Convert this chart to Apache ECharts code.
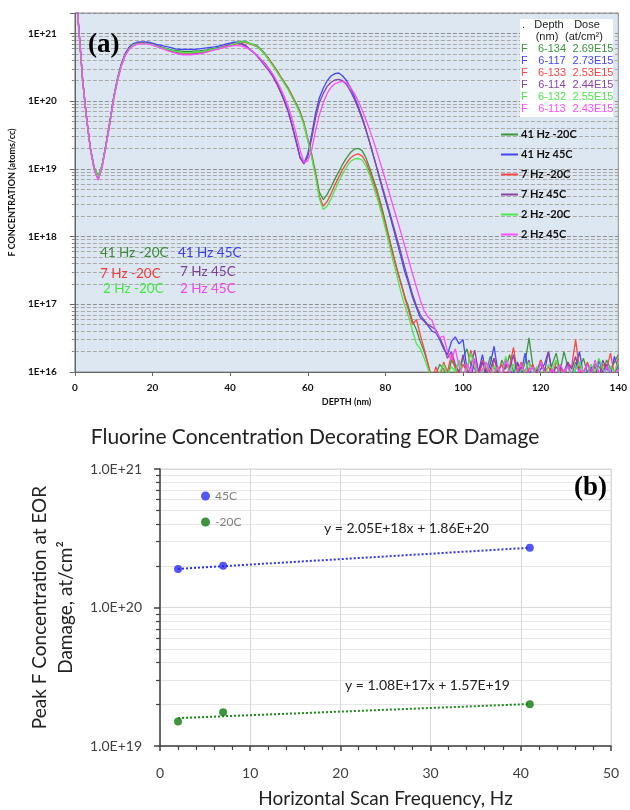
<!DOCTYPE html>
<html><head><meta charset="utf-8">
<script src="https://cdn.jsdelivr.net/npm/echarts/dist/echarts.min.js"></script>
<style>html,body{margin:0;padding:0;background:#fff}#c{width:630px;height:810px}</style>
</head><body><div id="c"></div>
<script>
// ---------- Panel (a): SIMS depth profiles ----------
const depthNm = [
0,1,2,3,4,5,6,7,8,9,10,11,12,13,14,15,16,17,18,19,20,21,22,23,24,25,26,27,28,29,
30,31,32,33,34,35,36,37,38,39,40,41,42,43,44,45,46,47,48,49,50,51,52,53,54,55,56,57,58,59,
60,61,62,63,64,65,66,67,68,69,70,71,72,73,74,75,76,77,78,79,80,81,82,83,84,85,86,87,88,89,
90,91,92,93,94,95,96,97,98,99,100,101,102,103,104,105,106,107,108,109,110,111,112,113,114,115,116,117,118,119,
120,121,122,123,124,125,126,127,128,129,130,131,132,133,134,135,136,137,138,139,140];

const f41HzMinus20C = [
6e21,1.2e21,2.0e20,5.6e19,2.0e19,1.05e19,7.9e18,1.12e19,2.2e19,4.8e19,
1.12e20,2.1e20,3.5e20,4.9e20,6.0e20,6.8e20,7.1e20,7.2e20,7.2e20,7.1e20,
6.9e20,6.6e20,6.3e20,6.1e20,5.9e20,5.7e20,5.6e20,5.5e20,5.4e20,5.4e20,
5.4e20,5.5e20,5.5e20,5.6e20,5.7e20,5.9e20,6.0e20,6.2e20,6.3e20,6.5e20,
6.8e20,7.1e20,7.4e20,7.6e20,7.6e20,7.2e20,6.9e20,6.5e20,5.8e20,5.0e20,
4.2e20,3.5e20,2.9e20,2.3e20,1.9e20,1.55e20,1.2e20,9.3e19,7.1e19,4.8e19,
2.8e19,1.66e19,8.9e18,4.5e18,3.5e18,4.2e18,5.4e18,7.1e18,9.1e18,1.17e19,
1.45e19,1.74e19,1.95e19,2.0e19,1.86e19,1.45e19,1.0e19,6.8e18,4.5e18,2.8e18,
1.66e18,9.5e17,5.6e17,3.3e17,2.1e17,1.3e17,8.9e16,5.6e16,4.2e16,2.8e16,
2.0e16,1.3e16,8e15,9e15,1.3e16,1.1e16,8e15,1.5e16,1.2e16,1.0e16,
1.6e16,2.2e16,1.3e16,1.1e16,9e15,1.4e16,1.0e16,1.7e16,1.2e16,9e15,
1.5e16,1.1e16,1.8e16,1.0e16,1.3e16,9e15,1.4e16,3.2e16,1.2e16,1.0e16,
1.5e16,1.1e16,9e15,1.3e16,1.9e16,1.0e16,2.0e16,1.2e16,9e15,1.4e16,
1.1e16,1.6e16,1.0e16,9e15,1.3e16,1.2e16,1.0e16,1.5e16,1.1e16,1.4e16,
1.8e16];

const f41Hz45C = [
6e21,1.25e21,2.1e20,5.8e19,2.0e19,1.0e19,7.2e18,1.1e19,2.3e19,5.0e19,
1.15e20,2.2e20,3.6e20,5.1e20,6.3e20,7.0e20,7.4e20,7.5e20,7.5e20,7.4e20,
7.2e20,6.9e20,6.7e20,6.5e20,6.3e20,6.1e20,5.9e20,5.8e20,5.8e20,5.8e20,
5.8e20,5.8e20,5.9e20,6.0e20,6.1e20,6.2e20,6.3e20,6.5e20,6.7e20,7.0e20,
7.2e20,7.4e20,7.4e20,7.1e20,6.6e20,5.9e20,5.3e20,4.7e20,4.1e20,3.6e20,
3.0e20,2.4e20,1.85e20,1.4e20,1.02e20,7.0e19,4.4e19,2.6e19,1.5e19,1.2e19,
1.66e19,3.2e19,6.6e19,1.12e20,1.55e20,2.0e20,2.35e20,2.55e20,2.6e20,2.35e20,
2.0e20,1.58e20,1.17e20,8.3e19,5.8e19,3.8e19,2.4e19,1.5e19,9.3e18,5.6e18,
3.5e18,2.2e18,1.35e18,8.3e17,5.0e17,3.0e17,2.0e17,1.26e17,8.9e16,6.3e16,
5.6e16,4.8e16,4.0e16,3.8e16,3.0e16,2.2e16,1.8e16,2.8e16,3.3e16,2.6e16,
3.0e16,1.1e16,8e15,1.5e16,1.0e16,1.8e16,9e15,1.3e16,2.4e16,1.0e16,
8e15,1.6e16,1.1e16,9e15,1.4e16,1.0e16,1.9e16,9e15,1.2e16,8e15,
1.1e16,1.3e16,2.0e16,1.0e16,9e15,1.2e16,1.0e16,1.4e16,8e15,1.1e16,
2.0e16,9e15,1.0e16,1.2e16,8e15,1.5e16,1.0e16,1.3e16,9e15,1.7e16,
1.1e16];

const f7HzMinus20C = [
6e21,1.2e21,2.0e20,5.6e19,2.0e19,1.02e19,7.6e18,1.1e19,2.2e19,4.7e19,
1.1e20,2.1e20,3.4e20,4.8e20,5.9e20,6.6e20,7.0e20,7.1e20,7.1e20,7.0e20,
6.8e20,6.5e20,6.1e20,5.9e20,5.7e20,5.5e20,5.3e20,5.2e20,5.1e20,5.1e20,
5.1e20,5.2e20,5.2e20,5.3e20,5.4e20,5.6e20,5.8e20,5.9e20,6.1e20,6.3e20,
6.5e20,6.8e20,7.1e20,7.3e20,7.3e20,7.0e20,6.7e20,6.3e20,5.7e20,4.9e20,
4.1e20,3.4e20,2.8e20,2.3e20,1.85e20,1.5e20,1.18e20,9.0e19,6.8e19,4.6e19,
2.7e19,1.55e19,8.0e18,3.9e18,2.8e18,3.3e18,4.3e18,5.8e18,7.6e18,9.8e18,
1.22e19,1.45e19,1.6e19,1.66e19,1.55e19,1.25e19,8.9e18,6.0e18,4.0e18,2.5e18,
1.5e18,8.9e17,5.2e17,3.2e17,2.0e17,1.25e17,8.0e16,5.0e16,6.0e16,3.5e16,
2.2e16,1.3e16,7e15,1.2e16,8e15,1.4e16,1.0e16,1.8e16,1.1e16,9e15,
1.3e16,1.0e16,2.1e16,1.2e16,8e15,1.5e16,1.1e16,9e15,1.6e16,1.0e16,
1.3e16,8e15,1.2e16,2.3e16,1.0e16,1.4e16,9e15,1.1e16,1.3e16,8e15,
1.5e16,1.0e16,1.2e16,9e15,1.4e16,1.1e16,1.0e16,1.3e16,1.2e16,3.0e16,
1.1e16,9e15,1.4e16,1.0e16,1.2e16,8e15,1.3e16,1.1e16,1.9e16,9e15,
1.6e16];

const f7Hz45C = [
6e21,1.25e21,2.1e20,5.8e19,2.0e19,1.0e19,7.0e18,1.08e19,2.2e19,4.8e19,
1.1e20,2.1e20,3.5e20,5.0e20,6.1e20,6.8e20,7.2e20,7.3e20,7.3e20,7.1e20,
6.9e20,6.6e20,6.3e20,6.0e20,5.7e20,5.4e20,5.2e20,5.0e20,4.9e20,4.9e20,
4.9e20,5.0e20,5.1e20,5.2e20,5.4e20,5.6e20,5.8e20,6.0e20,6.3e20,6.6e20,
6.9e20,7.1e20,7.1e20,6.9e20,6.5e20,5.8e20,5.2e20,4.6e20,3.9e20,3.3e20,
2.8e20,2.3e20,1.8e20,1.35e20,9.8e19,6.8e19,4.2e19,2.5e19,1.45e19,1.18e19,
1.5e19,2.8e19,5.6e19,9.5e19,1.3e20,1.65e20,1.9e20,2.05e20,2.1e20,2.0e20,
1.75e20,1.4e20,1.07e20,7.8e19,5.5e19,3.7e19,2.4e19,1.5e19,9.5e18,6.0e18,
3.8e18,2.4e18,1.5e18,9.3e17,5.8e17,3.5e17,2.2e17,1.4e17,9.5e16,7.0e16,
5.8e16,5.0e16,4.6e16,4.2e16,3.2e16,2.4e16,1.6e16,2.0e16,1.3e16,1.0e16,
1.8e16,9e15,1.2e16,2.1e16,1.0e16,1.4e16,8e15,1.1e16,1.6e16,1.0e16,
9e15,1.3e16,1.1e16,1.8e16,9e15,1.2e16,1.0e16,1.5e16,8e15,1.1e16,
1.3e16,1.0e16,2.0e16,9e15,1.2e16,1.0e16,8e15,1.4e16,1.1e16,1.7e16,
9e15,1.0e16,1.3e16,1.0e16,1.2e16,8e15,1.5e16,1.1e16,1.0e16,9e15,
1.3e16];

const f2HzMinus20C = [
6e21,1.2e21,2.0e20,5.5e19,1.95e19,1.0e19,7.6e18,1.1e19,2.2e19,4.7e19,
1.1e20,2.1e20,3.4e20,4.8e20,5.9e20,6.7e20,7.0e20,7.1e20,7.1e20,7.0e20,
6.8e20,6.5e20,6.2e20,6.0e20,5.8e20,5.6e20,5.4e20,5.3e20,5.2e20,5.2e20,
5.2e20,5.3e20,5.3e20,5.4e20,5.5e20,5.7e20,5.9e20,6.0e20,6.2e20,6.4e20,
6.7e20,7.0e20,7.3e20,7.5e20,7.5e20,7.1e20,6.8e20,6.3e20,5.6e20,4.8e20,
4.0e20,3.3e20,2.7e20,2.2e20,1.8e20,1.45e20,1.12e20,8.7e19,6.5e19,4.4e19,
2.6e19,1.5e19,7.6e18,3.6e18,2.5e18,2.8e18,3.6e18,4.9e18,6.5e18,8.5e18,
1.07e19,1.28e19,1.4e19,1.42e19,1.35e19,1.1e19,7.9e18,5.3e18,3.5e18,2.2e18,
1.3e18,7.5e17,4.3e17,2.6e17,1.5e17,9.5e16,6.5e16,4.0e16,2.6e16,2.2e16,
1.6e16,1.1e16,8e15,8e15,1.0e16,1.3e16,9e15,1.2e16,1.0e16,1.5e16,
8e15,1.1e16,1.9e16,1.2e16,9e15,1.0e16,1.4e16,8e15,1.2e16,1.1e16,
9e15,1.7e16,1.0e16,1.3e16,8e15,1.1e16,1.0e16,1.4e16,9e15,1.2e16,
1.0e16,8e15,1.3e16,1.1e16,1.5e16,9e15,1.0e16,1.2e16,8e15,1.1e16,
1.4e16,1.0e16,9e15,1.3e16,1.0e16,1.6e16,1.1e16,9e15,1.2e16,1.0e16,
1.4e16];

const f2Hz45C = [
6e21,1.25e21,2.1e20,5.8e19,1.95e19,9.5e18,6.8e18,1.02e19,2.1e19,4.6e19,
1.05e20,2.0e20,3.3e20,4.7e20,5.8e20,6.5e20,6.9e20,7.0e20,7.0e20,6.9e20,
6.7e20,6.4e20,6.1e20,5.8e20,5.5e20,5.3e20,5.1e20,4.9e20,4.8e20,4.8e20,
4.8e20,4.9e20,5.0e20,5.1e20,5.3e20,5.5e20,5.7e20,5.9e20,6.1e20,6.3e20,
6.5e20,6.6e20,6.6e20,6.5e20,6.2e20,5.8e20,5.3e20,4.7e20,4.1e20,3.5e20,
3.0e20,2.5e20,2.0e20,1.55e20,1.15e20,8.2e19,5.4e19,3.3e19,1.9e19,1.25e19,
1.3e19,1.9e19,3.6e19,6.3e19,9.5e19,1.3e20,1.6e20,1.8e20,1.9e20,1.95e20,
1.85e20,1.6e20,1.3e20,1.0e20,7.4e19,5.3e19,3.7e19,2.5e19,1.65e19,1.07e19,
6.9e18,4.4e18,2.8e18,1.8e18,1.15e18,7.2e17,4.5e17,2.8e17,1.8e17,1.15e17,
8.0e16,6.5e16,5.8e16,4.0e16,3.2e16,3.4e16,2.0e16,1.5e16,2.2e16,1.2e16,
8e15,1.3e16,1.0e16,1.6e16,9e15,1.1e16,1.4e16,8e15,1.0e16,1.2e16,
9e15,1.5e16,1.0e16,8e15,1.1e16,1.3e16,9e15,1.0e16,1.2e16,8e15,
1.4e16,1.0e16,9e15,1.1e16,8e15,1.3e16,1.0e16,1.2e16,9e15,8e15,
1.1e16,1.0e16,1.3e16,9e15,1.5e16,1.0e16,8e15,1.2e16,1.0e16,9e15,
1.1e16];

const profileNames = ['41 Hz -20C','41 Hz 45C','7 Hz -20C','7 Hz 45C','2 Hz -20C','2 Hz 45C'];
const profileValues = [f41HzMinus20C, f41Hz45C, f7HzMinus20C, f7Hz45C, f2HzMinus20C, f2Hz45C];
const profileColors = ['#3c963c','#4646ff','#ff4646','#8c44a4','#4ce84c','#ff4cff'];

// Table inside panel (a)
const tableDepth = ['6-134','6-117','6-133','6-114','6-132','6-113'];
const tableDose  = ['2.69E15','2.73E15','2.53E15','2.44E15','2.55E15','2.43E15'];

// ---------- Panel (b): peak F concentration vs scan frequency ----------
const freqHz = [2, 7, 41];
const peak45C = [1.90e20, 2.00e20, 2.70e20];
const peakMinus20C = [1.50e19, 1.75e19, 2.00e19];
const trendHz = [2, 41];
const trend45C = [1.90e20, 2.70e20];
const trendMinus20C = [1.59e19, 2.01e19];
const eq45C = 'y = 2.05E+18x + 1.86E+20';
const eqMinus20C = 'y = 1.08E+17x + 1.57E+19';

const chart = echarts.init(document.getElementById('c'), null, {renderer:'canvas'});

const isPow10 = v => Math.abs(Math.log10(v) - Math.round(Math.log10(v))) < 1e-6;

const seriesA = profileNames.map((n, i) => ({
  name: n, type: 'line', xAxisIndex: 0, yAxisIndex: 0,
  data: depthNm.map((d, j) => [d, profileValues[i][j]]),
  symbol: 'none', showSymbol: false, clip: true, z: 3,
  lineStyle: {width: 1.3, color: profileColors[i]},
  itemStyle: {color: profileColors[i]}
}));

const annot = [
  ['41 Hz -20C', 100, 253, '#3c8c3c'], ['41 Hz 45C', 178, 253, '#3c3cf0'],
  ['7 Hz -20C', 100, 274, '#f03c3c'], ['7 Hz 45C', 180, 272, '#7c3c98'],
  ['2 Hz -20C', 103, 289, '#46e646'], ['2 Hz 45C', 180, 289, '#f046f0']
];
const tableColors = ['#3c963c','#4646ff','#ff4646','#8c44a4','#4ce84c','#ff4cff'];

const graphics = [];
const G = (o) => { o.z = 50; graphics.push(o); };
G({type:'text', x: 88, y: 45, style:{text:'(a)', font:'bold 27px "Liberation Serif", "DejaVu Serif", serif', fill:'#000', verticalAlign:'middle'}});
G({type:'text', x: 574, y: 488, style:{text:'(b)', font:'bold 27px "Liberation Serif", "DejaVu Serif", serif', fill:'#000', verticalAlign:'middle'}});
annot.forEach(a => G({type:'text', x:a[1], y:a[2], style:{text:a[0], font:'13.5px Lato, sans-serif', fill:a[3], verticalAlign:'middle'}}));
G({type:'rect', shape:{x:520, y:19, width:93, height:98}, style:{fill:'#ffffff'}});
const tFont = '11px "Liberation Sans", Arial, sans-serif';
G({type:'text', x:522, y:25, style:{text:'.', font:tFont, fill:'#333', verticalAlign:'middle'}});
G({type:'text', x:549, y:25, style:{text:'Depth', font:tFont, fill:'#222', align:'center', verticalAlign:'middle'}});
G({type:'text', x:587, y:25, style:{text:'Dose', font:tFont, fill:'#222', align:'center', verticalAlign:'middle'}});
G({type:'text', x:547, y:37, style:{text:'(nm)', font:tFont, fill:'#222', align:'center', verticalAlign:'middle'}});
G({type:'text', x:584, y:37, style:{text:'(at/cm²)', font:tFont, fill:'#222', align:'center', verticalAlign:'middle'}});
tableDepth.forEach((d, i) => {
  const y = 49 + 12 * i;
  G({type:'text', x:521, y:y, style:{text:'F', font:tFont, fill:tableColors[i], verticalAlign:'middle'}});
  G({type:'text', x:552, y:y, style:{text:d, font:tFont, fill:tableColors[i], align:'center', verticalAlign:'middle'}});
  G({type:'text', x:593, y:y, style:{text:tableDose[i], font:tFont, fill:tableColors[i], align:'center', verticalAlign:'middle'}});
});
G({type:'text', x:324, y:528, style:{text:eq45C, font:'14px Lato, sans-serif', fill:'#222', verticalAlign:'middle'}});
G({type:'text', x:345, y:685, style:{text:eqMinus20C, font:'14px Lato, sans-serif', fill:'#222', verticalAlign:'middle'}});

const option = {
  animation: false,
  backgroundColor: '#ffffff',
  title: {text:'Fluorine Concentration Decorating EOR Damage', left:'center', top:422,
    textStyle:{fontFamily:'Lato, sans-serif', fontSize:21, fontWeight:'normal', color:'#222'}},
  legend: [
    {data: profileNames, orient:'vertical', left:501, top:128, itemWidth:17, itemHeight:2, itemGap:7,
     icon:'rect',
     textStyle:{fontFamily:'Lato, sans-serif', fontWeight:'bold', fontSize:11, color:'#111', lineHeight:13, padding:[0,0,0,-2]}, padding:0},
    {data: ['45C','-20C'], orient:'vertical', left:201, top:490, itemWidth:9, itemHeight:9, itemGap:14,
     icon:'circle', textStyle:{fontFamily:'Lato, sans-serif', fontSize:12, color:'#808080', lineHeight:10}, padding:0}
  ],
  grid: [
    {left:73, top:13, width:547, height:359, show:true, backgroundColor:'#dde7f2', borderColor:'#8a8a8a', borderWidth:1},
    {left:160, top:469, width:451, height:277, show:true, backgroundColor:'rgba(0,0,0,0)', borderColor:'#d9d9d9', borderWidth:1}
  ],
  xAxis: [
    {gridIndex:0, type:'value', min:0, max:140, interval:20,
     name:'DEPTH (nm)', nameLocation:'middle', nameGap:26,
     nameTextStyle:{fontFamily:'Lato, sans-serif', fontWeight:'bold', fontSize:9, color:'#111'},
     axisLine:{show:true, lineStyle:{color:'#666'}}, axisTick:{show:true, length:4, lineStyle:{color:'#666'}},
     axisLabel:{fontFamily:'Lato, sans-serif', fontWeight:'bold', fontSize:10, color:'#111', margin:11},
     splitLine:{show:false}},
    {gridIndex:1, type:'value', min:0, max:50, interval:10,
     name:'Horizontal Scan Frequency, Hz', nameLocation:'middle', nameGap:43,
     nameTextStyle:{fontFamily:'Lato, sans-serif', fontSize:19, color:'#222'},
     axisLine:{show:true, lineStyle:{color:'#404040', width:1.5}},
     axisTick:{show:true, length:5, lineStyle:{color:'#404040', width:1.5}},
     minorTick:{show:true, splitNumber:5, length:4, lineStyle:{color:'#404040', width:1.2}},
     axisLabel:{fontFamily:'Lato, sans-serif', fontSize:14, color:'#404040', margin:20},
     splitLine:{show:true, lineStyle:{color:'#d9d9d9', width:1}}}
  ],
  yAxis: [
    {gridIndex:0, type:'log', logBase:10, min:1e16, max:2e21,
     name:'F CONCENTRATION (atoms/cc)', nameLocation:'middle', nameGap:47,
     nameTextStyle:{fontFamily:'Lato, sans-serif', fontWeight:'bold', fontSize:9, color:'#111'},
     axisLine:{show:true, lineStyle:{color:'#666'}},
     axisTick:{show:true, length:5, lineStyle:{color:'#666'}},
     minorTick:{show:true, splitNumber:9, length:3, lineStyle:{color:'#888'}},
     axisLabel:{fontFamily:'Lato, sans-serif', fontWeight:'bold', fontSize:10, color:'#111', margin:18,
       formatter: v => isPow10(v) ? '1E+' + Math.round(Math.log10(v)) : ''},
     splitLine:{show:true, lineStyle:{color:'#8f8f8f', type:'dashed', width:1}},
     minorSplitLine:{show:true, lineStyle:{color:'#a9a9a9', type:'dashed', width:1}}},
    {gridIndex:1, type:'log', logBase:10, min:1e19, max:1e21,
     name:'Peak F Concentration at EOR\nDamage, at/cm²', nameLocation:'middle', nameGap:80,
     nameTextStyle:{fontFamily:'Lato, sans-serif', fontSize:19, color:'#222', lineHeight:26},
     axisLine:{show:true, lineStyle:{color:'#404040', width:1.5}},
     axisTick:{show:true, length:6, lineStyle:{color:'#404040', width:1.5}},
     minorTick:{show:true, splitNumber:9, length:4, lineStyle:{color:'#404040', width:1.2}},
     axisLabel:{fontFamily:'Lato, sans-serif', fontSize:14, color:'#404040', margin:18,
       formatter: v => isPow10(v) ? v.toExponential(1).toUpperCase() : ''},
     splitLine:{show:true, lineStyle:{color:'#d9d9d9', width:1}},
     minorSplitLine:{show:true, lineStyle:{color:'#e6e6e6', width:1}}}
  ],
  graphic: graphics,
  series: seriesA.concat([
    {name:'trend45', type:'line', xAxisIndex:1, yAxisIndex:1, data: trendHz.map((x,i)=>[x, trend45C[i]]),
     symbol:'none', lineStyle:{color:'#3333ee', width:2, type:'dotted'}, z:3},
    {name:'trend-20', type:'line', xAxisIndex:1, yAxisIndex:1, data: trendHz.map((x,i)=>[x, trendMinus20C[i]]),
     symbol:'none', lineStyle:{color:'#1a8a1a', width:2, type:'dotted'}, z:3},
    {name:'45C', type:'scatter', xAxisIndex:1, yAxisIndex:1, data: freqHz.map((x,i)=>[x, peak45C[i]]),
     symbolSize:8, itemStyle:{color:'#2b2bf0'}, z:4},
    {name:'-20C', type:'scatter', xAxisIndex:1, yAxisIndex:1, data: freqHz.map((x,i)=>[x, peakMinus20C[i]]),
     symbolSize:8, itemStyle:{color:'#0f7a0f'}, z:4}
  ])
};
chart.setOption(option);
</script></body></html>
